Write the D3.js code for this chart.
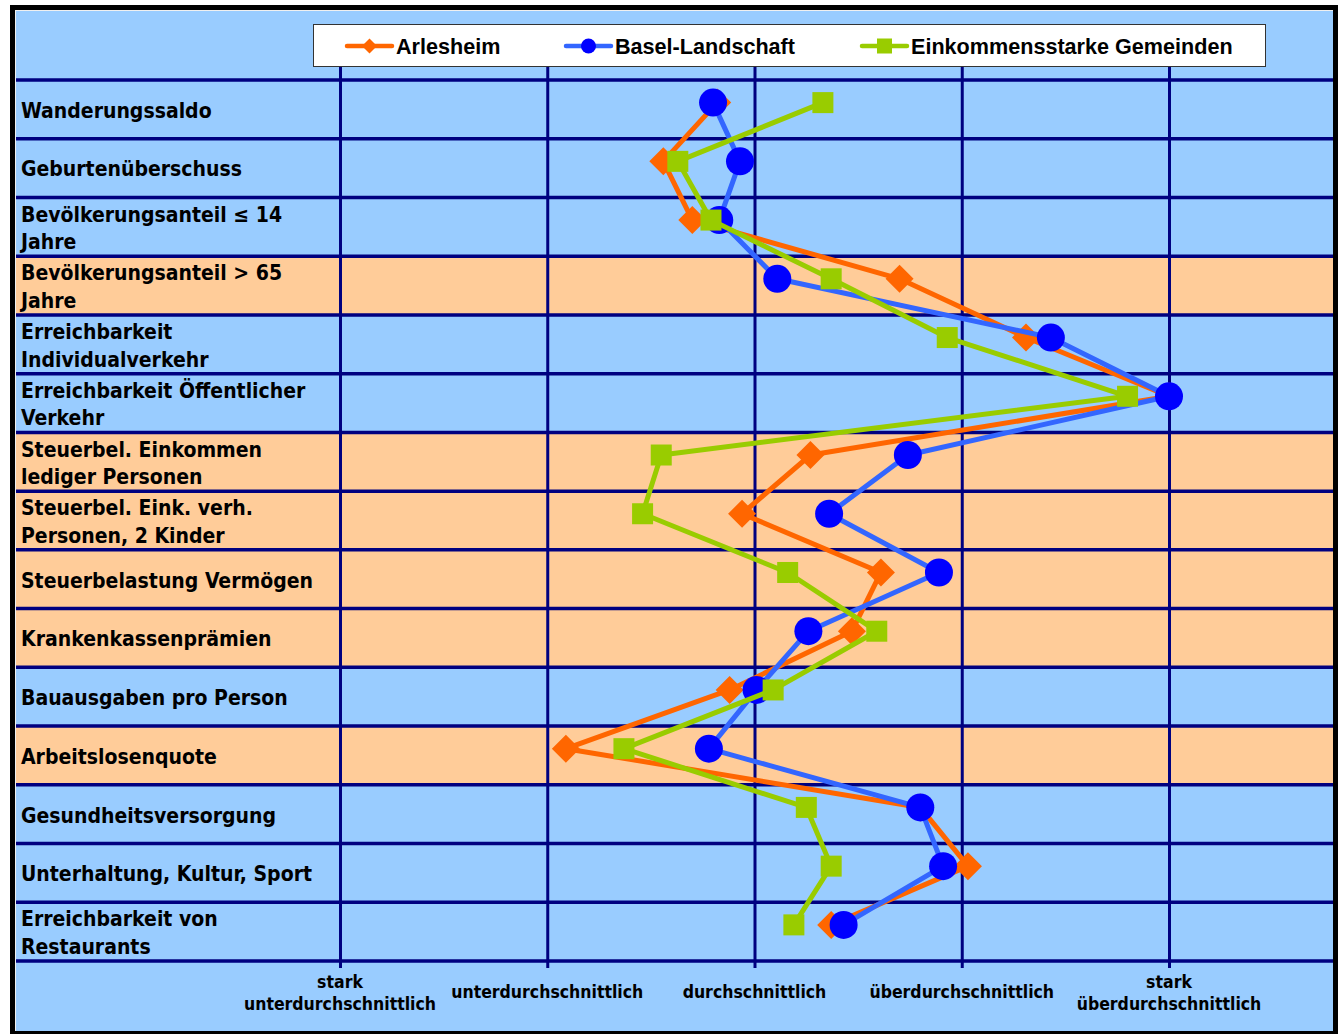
<!DOCTYPE html>
<html>
<head>
<meta charset="utf-8">
<script src="https://cdn.jsdelivr.net/npm/d3@7"></script>
<style>
  body { margin: 0; background: #fff; }
  svg { display: block; }
  .cat { font-family: "DejaVu Sans Condensed", "DejaVu Sans", sans-serif; font-stretch: condensed; font-weight: bold; font-size: 21px; fill: #000; }
  .xlab { font-family: "DejaVu Sans Condensed", "DejaVu Sans", sans-serif; font-stretch: condensed; font-weight: bold; font-size: 17.5px; fill: #000; }
  .leg { font-family: "Liberation Sans", Arial, sans-serif; font-weight: bold; font-size: 21.6px; fill: #000; }
</style>
</head>
<body>
<svg id="chart"></svg>
<script>
// categories, top to bottom (lines split where the original wraps)
var categories = [
  ["Wanderungssaldo"],
  ["Geburtenüberschuss"],
  ["Bevölkerungsanteil ≤ 14", "Jahre"],
  ["Bevölkerungsanteil > 65", "Jahre"],
  ["Erreichbarkeit", "Individualverkehr"],
  ["Erreichbarkeit Öffentlicher", "Verkehr"],
  ["Steuerbel. Einkommen", "lediger Personen"],
  ["Steuerbel. Eink. verh.", "Personen, 2 Kinder"],
  ["Steuerbelastung Vermögen"],
  ["Krankenkassenprämien"],
  ["Bauausgaben pro Person"],
  ["Arbeitslosenquote"],
  ["Gesundheitsversorgung"],
  ["Unterhaltung, Kultur, Sport"],
  ["Erreichbarkeit von", "Restaurants"]
];
// which rows are shaded orange
var highlighted = [false, false, false, true, false, false, true, true, true, true, false, true, false, false, false];

// scale 1 = stark unterdurchschnittlich ... 5 = stark überdurchschnittlich
var arlesheim   = [2.82, 2.56, 2.70, 3.70, 4.31, 5.00, 3.27, 2.94, 3.61, 3.47, 2.88, 2.09, 3.80, 4.03, 3.37];
var baselLand   = [2.80, 2.93, 2.83, 3.11, 4.43, 5.00, 3.74, 3.36, 3.89, 3.26, 3.01, 2.78, 3.80, 3.91, 3.43];
var einkStark   = [3.33, 2.63, 2.79, 3.37, 3.93, 4.80, 2.55, 2.46, 3.16, 3.59, 3.09, 2.37, 3.25, 3.37, 3.19];

var seriesNames = ["Arlesheim", "Basel-Landschaft", "Einkommensstarke Gemeinden"];
var tickValues = [1, 2, 3, 4, 5];
var tickLabels = [["stark", "unterdurchschnittlich"], ["unterdurchschnittlich"], ["durchschnittlich"],
                  ["überdurchschnittlich"], ["stark", "überdurchschnittlich"]];

var W = 1338, H = 1034;
var gridColor = "#000080";
var series = [
  { name: seriesNames[0], values: arlesheim, line: "#FF6600", fill: "#FF6600", shape: "diamond" },
  { name: seriesNames[1], values: baselLand, line: "#3366FF", fill: "#0000FF", shape: "circle" },
  { name: seriesNames[2], values: einkStark, line: "#99CC00", fill: "#99CC00", shape: "square" }
];

var svg = d3.select("#chart").attr("width", W).attr("height", H);

// frame
svg.append("rect").attr("x", 0).attr("y", 0).attr("width", W).attr("height", H).attr("fill", "#fff");
svg.append("rect").attr("x", 10).attr("y", 5).attr("width", 1328).attr("height", 1029).attr("fill", "#000");
svg.append("rect").attr("x", 15).attr("y", 10).attr("width", 1318).attr("height", 1021).attr("fill", "#f0f0f0");
svg.append("rect").attr("x", 16).attr("y", 11).attr("width", 1317).attr("height", 1020).attr("fill", "#99CCFF");

var areaLeft = 16, areaRight = 1333, gridTop = 80, gridBottom = 961, plotTop = 66;

var x = d3.scaleLinear().domain([1, 5]).range([340, 1169]);
var y = d3.scaleLinear().domain([0, categories.length]).range([gridTop, gridBottom]);
var pointOffset = 0.385; // markers sit a bit above the row middle

// shaded rows
svg.append("g").selectAll("rect")
  .data(highlighted)
  .join("rect")
  .attr("x", areaLeft).attr("width", areaRight - areaLeft)
  .attr("y", function (d, i) { return y(i); })
  .attr("height", function (d, i) { return y(i + 1) - y(i); })
  .attr("fill", function (d) { return d ? "#FFCC99" : "none"; });

// vertical grid + ticks via the axis
var xAxis = d3.axisBottom(x).tickValues(tickValues).tickSize(gridBottom - plotTop + 7).tickFormat("");
var gx = svg.append("g").attr("transform", "translate(0," + plotTop + ")").call(xAxis);
gx.select(".domain").remove();
gx.selectAll(".tick line").attr("stroke", gridColor).attr("stroke-width", 3);

// horizontal grid lines
svg.append("g").selectAll("line")
  .data(d3.range(categories.length + 1))
  .join("line")
  .attr("x1", areaLeft).attr("x2", areaRight)
  .attr("y1", function (d) { return y(d); }).attr("y2", function (d) { return y(d); })
  .attr("stroke", gridColor).attr("stroke-width", 3.5);

// category labels
var catText = svg.append("g").selectAll("text")
  .data(categories)
  .join("text")
  .attr("class", "cat")
  .attr("x", 21);
catText.each(function (lines, i) {
  var t = d3.select(this);
  var mid = (y(i) + y(i + 1)) / 2;
  var ys = lines.length === 1 ? [mid + 1] : [mid - 12.5, mid + 15];
  lines.forEach(function (s, k) {
    t.append("tspan").attr("x", 21).attr("y", ys[k]).attr("dy", "0.35em").text(s);
  });
});

// axis labels
var xl = svg.append("g").selectAll("text")
  .data(tickLabels)
  .join("text")
  .attr("class", "xlab")
  .attr("text-anchor", "middle");
xl.each(function (lines, i) {
  var t = d3.select(this);
  var ys = lines.length === 1 ? [992] : [982, 1004];
  lines.forEach(function (s, k) {
    t.append("tspan").attr("x", x(tickValues[i])).attr("y", ys[k]).attr("dy", "0.35em").text(s);
  });
});

function drawMarker(g, shape, cx, cy, fill, size) {
  if (shape === "circle") {
    g.append("circle").attr("cx", cx).attr("cy", cy).attr("r", size).attr("fill", fill);
  } else if (shape === "diamond") {
    g.append("path")
      .attr("d", "M" + (cx - size) + "," + cy + "L" + cx + "," + (cy - size) + "L" + (cx + size) + "," + cy + "L" + cx + "," + (cy + size) + "Z")
      .attr("fill", fill);
  } else {
    var h = size * 0.75;
    g.append("rect").attr("x", cx - h).attr("y", cy - h).attr("width", 2 * h).attr("height", 2 * h).attr("fill", fill);
  }
}

// series
var line = d3.line()
  .x(function (d) { return x(d); })
  .y(function (d, i) { return y(i + pointOffset); });

series.forEach(function (s) {
  var g = svg.append("g");
  g.append("path").attr("d", line(s.values)).attr("fill", "none")
    .attr("stroke", s.line).attr("stroke-width", 5).attr("stroke-linejoin", "round");
  s.values.forEach(function (v, i) {
    drawMarker(g, s.shape, x(v), y(i + pointOffset), s.fill, 14);
  });
});

// legend
var lg = svg.append("g");
lg.append("rect").attr("x", 313.5).attr("y", 24.5).attr("width", 952).attr("height", 42)
  .attr("fill", "#fff").attr("stroke", "#333").attr("stroke-width", 1);
var legX = [347, 566, 862];
series.forEach(function (s, i) {
  var lx = legX[i], ly = 46;
  lg.append("line").attr("x1", lx).attr("x2", lx + 45).attr("y1", ly).attr("y2", ly)
    .attr("stroke", s.line).attr("stroke-width", 4.5).attr("stroke-linecap", "round");
  drawMarker(lg, s.shape, lx + 22.5, ly, s.fill, s.shape === "square" ? 10 : 7.5);
  lg.append("text").attr("class", "leg").attr("x", lx + 49).attr("y", ly).attr("dy", "0.35em").text(s.name);
});
</script>
</body>
</html>
